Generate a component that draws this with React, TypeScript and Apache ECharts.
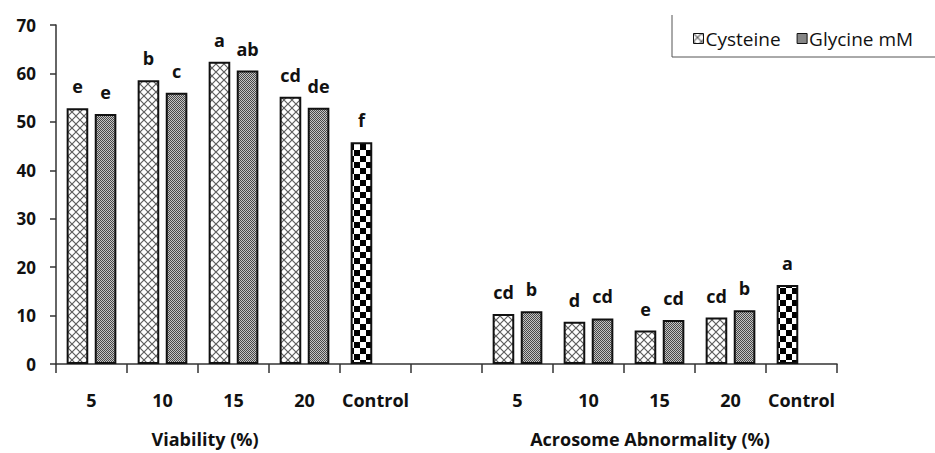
import React, { useEffect, useRef } from 'react';
import * as echarts from 'echarts';

const categories = ['V5', 'V10', 'V15', 'V20', 'VControl', 'gap', 'A5', 'A10', 'A15', 'A20', 'AControl'];
const tickLabels = ['5', '10', '15', '20', 'Control', '', '5', '10', '15', '20', 'Control'];
const cysteine = [52.8, 58.6, 62.4, 55.2, null, null, 10.3, 8.7, 6.9, 9.6, null];
const glycine = [51.6, 56.0, 60.6, 52.9, null, null, 10.9, 9.4, 9.1, 11.1, null];
const control = [null, null, null, null, 45.8, null, null, null, null, null, 16.3];
const cysteineLetters = ['e', 'b', 'a', 'cd', '', '', 'cd', 'd', 'e', 'cd', ''];
const glycineLetters = ['e', 'c', 'ab', 'de', '', '', 'b', 'cd', 'cd', 'b', ''];
const controlLetters = ['', '', '', '', 'f', '', '', '', '', '', 'a'];
const seriesNames = ['Cysteine', 'Glycine mM'];
const groupTitles = ['Viability (%)', 'Acrosome Abnormality (%)'];

const FONT = '"Open Sans", "Noto Sans", sans-serif';

function makeTile(size: number, draw: (ctx: CanvasRenderingContext2D, s: number) => void) {
  const c = document.createElement('canvas');
  c.width = size;
  c.height = size;
  const ctx = c.getContext('2d') as CanvasRenderingContext2D;
  draw(ctx, size);
  return { image: c, repeat: 'repeat', imageWidth: size, imageHeight: size } as any;
}

export default function App() {
  const ref = useRef<HTMLDivElement>(null);
  useEffect(() => {
    if (!ref.current) return;
    const chart = echarts.init(ref.current, null, { renderer: 'svg' });

    const cysPattern = makeTile(8, (ctx, s) => {
      ctx.fillStyle = '#ffffff';
      ctx.fillRect(0, 0, s, s);
      ctx.strokeStyle = '#5e5e5e';
      ctx.lineWidth = 1.2;
      ctx.beginPath();
      ctx.moveTo(0, 0); ctx.lineTo(s, s);
      ctx.moveTo(0, s); ctx.lineTo(s, 0);
      ctx.stroke();
    });
    const glyPattern = makeTile(2, (ctx) => {
      ctx.fillStyle = '#c4c4c4';
      ctx.fillRect(0, 0, 2, 2);
      ctx.fillStyle = '#484848';
      ctx.fillRect(0, 0, 1, 1);
      ctx.fillRect(1, 1, 1, 1);
    });
    const ctrlPattern = makeTile(12, (ctx) => {
      ctx.fillStyle = '#ffffff';
      ctx.fillRect(0, 0, 12, 12);
      ctx.fillStyle = '#000000';
      ctx.fillRect(0, 0, 6, 6);
      ctx.fillRect(6, 6, 6, 6);
    });

    const labelStyle = {
      show: true,
      position: 'top',
      distance: 13,
      fontSize: 18,
      fontWeight: 'bold',
      fontFamily: FONT,
      color: '#111',
    };

    const cysData = cysteine.map((v, i) =>
      control[i] != null
        ? { value: control[i], itemStyle: { color: ctrlPattern } }
        : v == null ? '-' : v
    );
    const glyData = glycine.map((v) => (v == null ? '-' : v));

    const titleStyle = {
      fontSize: 18,
      fontWeight: 'bold',
      fontFamily: FONT,
      fill: '#111',
      textAlign: 'center',
      textVerticalAlign: 'middle',
    };

    chart.setOption({
      animation: false,
      backgroundColor: '#ffffff',
      grid: { left: 56, right: 98, top: 25, bottom: 89, containLabel: false },
      legend: {
        data: seriesNames,
        left: 688,
        top: 24,
        itemWidth: 10,
        itemHeight: 10,
        itemGap: 16,
        icon: 'rect',
        itemStyle: { borderWidth: 1, borderColor: '#111' },
        textStyle: { fontSize: 19, fontFamily: FONT, color: '#111', padding: [0, 0, 0, -3] },
      },
      xAxis: {
        type: 'category',
        data: categories,
        axisLine: { lineStyle: { color: '#333', width: 1.5 } },
        axisTick: { show: true, length: 9, lineStyle: { color: '#333', width: 1.5 } },
        axisLabel: {
          interval: 0,
          margin: 27,
          fontSize: 18,
          fontWeight: 'bold',
          fontFamily: FONT,
          color: '#111',
          formatter: (_v: string, idx: number) => tickLabels[idx],
        },
        splitLine: { show: false },
      },
      yAxis: {
        type: 'value',
        min: 0,
        max: 70,
        interval: 10,
        axisLine: { show: true, lineStyle: { color: '#333', width: 1.5 } },
        axisTick: { show: true, length: 6, lineStyle: { color: '#333', width: 1.5 } },
        axisLabel: {
          margin: 20,
          fontSize: 17,
          fontWeight: 'bold',
          fontFamily: FONT,
          color: '#111',
        },
        splitLine: { show: false },
      },
      series: [
        {
          name: seriesNames[0],
          type: 'bar',
          data: cysData,
          barCategoryGap: '30%',
          barGap: '30%',
          itemStyle: { color: cysPattern, borderColor: '#111', borderWidth: 2 },
          label: {
            ...labelStyle,
            formatter: (p: any) =>
              control[p.dataIndex] != null ? controlLetters[p.dataIndex] : cysteineLetters[p.dataIndex],
          },
        },
        {
          name: seriesNames[1],
          type: 'bar',
          data: glyData,
          barCategoryGap: '30%',
          barGap: '30%',
          itemStyle: { color: glyPattern, borderColor: '#111', borderWidth: 2 },
          label: {
            ...labelStyle,
            formatter: (p: any) => glycineLetters[p.dataIndex],
          },
        },
      ],
      graphic: [
        { type: 'line', shape: { x1: 672, y1: 15, x2: 672, y2: 57 }, style: { stroke: '#555', lineWidth: 1 } },
        { type: 'line', shape: { x1: 672, y1: 57, x2: 935, y2: 57 }, style: { stroke: '#555', lineWidth: 1 } },
        { type: 'text', x: 205, y: 439, style: { text: groupTitles[0], ...titleStyle } },
        { type: 'text', x: 650, y: 439, style: { text: groupTitles[1], ...titleStyle } },
      ],
    });

    return () => chart.dispose();
  }, []);

  return (
    <div
      ref={ref}
      style={{ position: 'fixed', left: 0, top: 0, width: 935, height: 453, background: '#fff' }}
    />
  );
}
